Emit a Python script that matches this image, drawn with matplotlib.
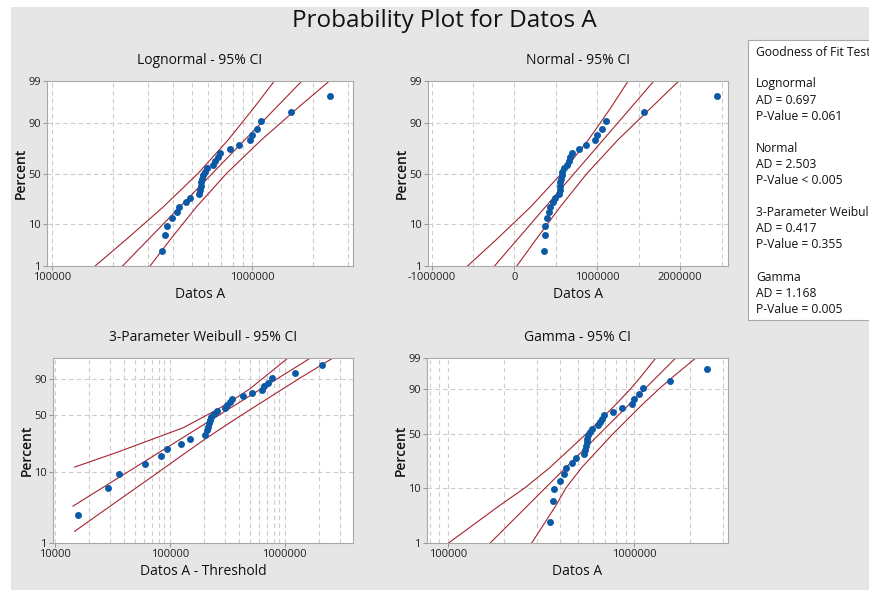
import math
import numpy as np
import matplotlib
matplotlib.use('Agg')
import matplotlib.pyplot as plt
from matplotlib.patches import Rectangle
from matplotlib.ticker import FixedLocator, NullFormatter, MultipleLocator

plt.rcParams['font.family'] = ['Open Sans', 'DejaVu Sans']

# sorted sample (Datos A), n = 28
datos_a = [352800, 366000, 373000, 397600, 421100, 430900, 463600, 487300,
           538700, 546900, 551300, 555100, 559600, 568100, 579300, 595000,
           637600, 652500, 670800, 688700, 773100, 860600, 973400, 996100,
           1059000, 1109000, 1560000, 2450000]
# plotting position (percent) of each sorted value
percent = [2.5, 6.0, 9.5, 13.0, 16.5, 20.1, 23.6, 27.1, 30.6, 34.2, 37.7, 41.2,
           44.7, 48.2, 51.8, 55.3, 58.8, 62.3, 65.8, 69.4, 72.9, 76.4, 79.9,
           83.5, 87.0, 90.5, 94.0, 97.5]
weibull_threshold = 337000

# fitted line and 95% CI bands, read at these percents
line_pct = [1, 5, 20, 50, 80, 95, 99]
logn_fit = [224300, 303400, 433300, 629300, 913900, 1305000, 1766000]
logn_lo = [163500, 235800, 357900, 534000, 755000, 1014000, 1287000]
logn_hi = [307700, 390500, 524400, 741400, 1106000, 1680000, 2423000]

norm_fit = [-241000, 40600, 372900, 721000, 1069100, 1401400, 1683000]
norm_lo = [-566000, -210000, 194600, 567800, 890800, 1160000, 1373000]
norm_hi = [28000, 265000, 551200, 874200, 1247400, 1645000, 1984000]

weib_fit_x = [14430, 1679000]
weib_fit_pct = [3.35, 99.0]
weib_lo_x = [14930, 34380, 67000, 130600, 254600, 355400, 496300, 692900, 1069000]
weib_lo_pct = [11.7, 18.2, 26.1, 36.6, 56.0, 68.2, 80.8, 92.4, 99.0]
weib_hi_x = [14930, 34380, 67000, 130600, 208300, 379900, 692900, 1350000, 2633000]
weib_hi_pct = [1.47, 3.86, 8.19, 17.1, 27.6, 46.3, 69.0, 90.5, 99.0]

gamma_pct = [1, 5, 10, 20, 50, 80, 90, 95, 99]
gamma_fit = [168600, 267400, 333300, 427100, 653200, 949100, 1136000, 1307000, 1672000]
gamma_lo = [100800, 188600, 258300, 350500, 554000, 805300, 951500, 1073000, 1307000]
gamma_hi = [281800, 379200, 430100, 520300, 769900, 1119000, 1355000, 1591000, 2140000]

gof_names = ['Lognormal', 'Normal', '3-Parameter Weibull', 'Gamma']
gof_ad = ['0.697', '2.503', '0.417', '1.168']
gof_p = ['= 0.061', '< 0.005', '= 0.355', '= 0.005']

BG = '#e6e6e6'
RED = '#a52430'
BLUE = '#0c59a6'
GRID = '#cccccc'
W, H = 869, 590

# normal quantile (Acklam) and cdf for the probability scales
A = [-3.969683028665376e+01, 2.209460984245205e+02, -2.759285104469687e+02,
     1.383577518672690e+02, -3.066479806614716e+01, 2.506628277459239e+00]
B = [-5.447609879822406e+01, 1.615858368580409e+02, -1.556989798598866e+02,
     6.680131188771972e+01, -1.328068155288572e+01, 1.0]
C = [-7.784894002430293e-03, -3.223964580411365e-01, -2.400758277161838e+00,
     -2.549671010243936e+00, 4.374664141464968e+00, 2.938163982698783e+00]
D = [7.784695709041462e-03, 3.224671290700398e-01, 2.445134137142996e+00,
     3.754408661907416e+00, 1.0]


def norm_ppf(p):
    p = np.clip(np.asarray(p, dtype=float), 1e-9, 1 - 1e-9)
    out = np.empty_like(p)
    lo = p < 0.02425
    hi = p > 1 - 0.02425
    mid = ~(lo | hi)
    q = np.sqrt(-2 * np.log(p[lo]))
    out[lo] = np.polyval(C, q) / np.polyval(D, q)
    q = np.sqrt(-2 * np.log(1 - p[hi]))
    out[hi] = -np.polyval(C, q) / np.polyval(D, q)
    q = p[mid] - 0.5
    r = q * q
    out[mid] = np.polyval(A, r) * q / np.polyval(B, r)
    return out


_erf = np.vectorize(math.erf, otypes=[float])


def norm_cdf(z):
    return 0.5 * (1 + _erf(np.asarray(z, dtype=float) / math.sqrt(2)))


def prob_fwd(y):
    return norm_ppf(np.asarray(y, dtype=float) / 100)


def prob_inv(z):
    return 100 * norm_cdf(z)


def weib_fwd(y):
    p = np.clip(np.asarray(y, dtype=float) / 100, 1e-9, 1 - 1e-9)
    return np.log(-np.log(1 - p))


def weib_inv(w):
    return 100 * (1 - np.exp(-np.exp(np.asarray(w, dtype=float))))


GK = 5.0
GC = 1 - 1 / (9 * GK)
GS = 1 / (3 * math.sqrt(GK))


def gam_fwd(y):
    return np.log(GC + GS * norm_ppf(np.asarray(y, dtype=float) / 100))


def gam_inv(v):
    return 100 * norm_cdf((np.exp(np.asarray(v, dtype=float)) - GC) / GS)


def make_axes(fig, x0, y0, x1, y1):
    ax = fig.add_axes([x0 / W, 1 - y1 / H, (x1 - x0) / W, (y1 - y0) / H])
    for s in ax.spines.values():
        s.set_color('#a8a8a8')
        s.set_linewidth(0.8)
    ax.tick_params(which='major', length=3, width=0.6, color='#888888',
                   labelsize=8, labelcolor='#222222', pad=1.5)
    ax.tick_params(which='minor', length=0)
    return ax


def style_axes(ax, title, xlabel, yscale, yticks):
    ax.set_yscale('function', functions=yscale)
    ax.set_ylim(1, 99)
    ax.yaxis.set_major_locator(FixedLocator(yticks))
    ax.yaxis.set_major_formatter(plt.FixedFormatter([str(t) for t in yticks]))
    ax.yaxis.set_minor_locator(FixedLocator([]))
    ax.grid(True, which='both', axis='x', color=GRID, linestyle=(0, (4, 3)), linewidth=0.8)
    for t in [10, 50, 90]:
        ax.axhline(t, color=GRID, linestyle=(0, (4, 3)), linewidth=0.8, zorder=0.5)
    ax.set_axisbelow(True)
    ax.set_title(title, fontsize=10, pad=12, color='#111111')
    ax.set_xlabel(xlabel, fontsize=10, labelpad=3, color='#111111')
    ax.set_ylabel('Percent', fontsize=10, labelpad=0, fontweight='semibold', color='#111111')


def log_xaxis(ax, lo, hi, majors):
    ax.set_xscale('log')
    ax.set_xlim(lo, hi)
    ax.xaxis.set_major_locator(FixedLocator(majors))
    ax.xaxis.set_major_formatter(plt.FixedFormatter([str(m) for m in majors]))
    ax.xaxis.set_minor_locator(plt.LogLocator(base=10, subs=np.arange(2, 10)))
    ax.xaxis.set_minor_formatter(NullFormatter())


fig = plt.figure(figsize=(W / 100, H / 100), dpi=100, facecolor='white')
fig.patches.append(Rectangle((11 / W, 0), 1, 1 - 7 / H, transform=fig.transFigure,
                             facecolor=BG, edgecolor='none', zorder=-10))

fig.text(444 / W, 1 - 21 / H, 'Probability Plot for Datos A', ha='center', va='center',
         fontsize=17.5, color='#111111')

prob_scale = (prob_fwd, prob_inv)

# Lognormal
ax = make_axes(fig, 47, 81, 353, 266)
log_xaxis(ax, 94000, 3180000, [100000, 1000000])
style_axes(ax, 'Lognormal - 95% CI', 'Datos A', prob_scale, [1, 10, 50, 90, 99])
for xs in (logn_lo, logn_fit, logn_hi):
    ax.plot(xs, line_pct, color=RED, lw=0.8)
ax.plot(datos_a, percent, 'o', color=BLUE, ms=5, mec='none')

# Normal
ax = make_axes(fig, 428, 81, 728, 266)
ax.set_xlim(-1044000, 2578000)
ax.xaxis.set_major_locator(FixedLocator([-1000000, 0, 1000000, 2000000]))
ax.xaxis.set_major_formatter(plt.FixedFormatter(['-1000000', '0', '1000000', '2000000']))
ax.xaxis.set_minor_locator(MultipleLocator(500000))
style_axes(ax, 'Normal - 95% CI', 'Datos A', prob_scale, [1, 10, 50, 90, 99])
for xs in (norm_lo, norm_fit, norm_hi):
    ax.plot(xs, line_pct, color=RED, lw=0.8)
ax.plot(datos_a, percent, 'o', color=BLUE, ms=5, mec='none')

# 3-Parameter Weibull
ax = make_axes(fig, 53, 358, 353, 543)
log_xaxis(ax, 9670, 3930000, [10000, 100000, 1000000])
style_axes(ax, '3-Parameter Weibull - 95% CI', 'Datos A - Threshold', (weib_fwd, weib_inv), [1, 10, 50, 90])
ax.plot(weib_lo_x, weib_lo_pct, color=RED, lw=0.8)
ax.plot(weib_fit_x, weib_fit_pct, color=RED, lw=0.8)
ax.plot(weib_hi_x, weib_hi_pct, color=RED, lw=0.8)
ax.plot([v - weibull_threshold for v in datos_a], percent, 'o', color=BLUE, ms=5, mec='none')

# Gamma
ax = make_axes(fig, 427, 358, 728, 543)
log_xaxis(ax, 77200, 3190000, [100000, 1000000])
style_axes(ax, 'Gamma - 95% CI', 'Datos A', (gam_fwd, gam_inv), [1, 10, 50, 90, 99])
for xs in (gamma_lo, gamma_fit, gamma_hi):
    ax.plot(xs, gamma_pct, color=RED, lw=0.8)
ax.plot(datos_a, percent, 'o', color=BLUE, ms=5, mec='none')

# goodness of fit box
fig.patches.append(Rectangle((748 / W, 1 - 320 / H), 0.2, 280 / H, transform=fig.transFigure,
                             facecolor='white', edgecolor='#a8a8a8', linewidth=0.8, zorder=-5))
fig.text(756 / W, 1 - 52 / H, 'Goodness of Fit Test', fontsize=8.7, va='center', color='#111111')
y = 84
for name, ad, pv in zip(gof_names, gof_ad, gof_p):
    fig.text(756 / W, 1 - y / H, name, fontsize=8.7, va='center', color='#111111')
    fig.text(756 / W, 1 - (y + 16) / H, 'AD = ' + ad, fontsize=8.7, va='center', color='#111111')
    fig.text(756 / W, 1 - (y + 32) / H, 'P-Value ' + pv, fontsize=8.7, va='center', color='#111111')
    y += 64.5

fig.savefig('out.png', dpi=100, facecolor='white')
